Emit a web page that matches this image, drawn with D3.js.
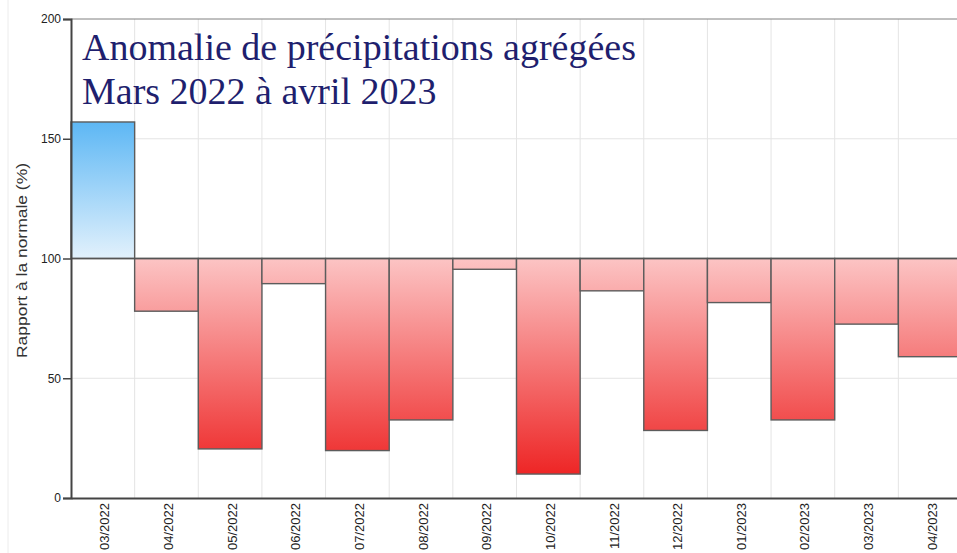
<!DOCTYPE html>
<html><head><meta charset="utf-8">
<script src="https://cdn.jsdelivr.net/npm/d3@7"></script>
<style>html,body{margin:0;padding:0;background:#fff;overflow:hidden}</style>
</head><body>
<svg id="c" width="957" height="553"></svg>
<script>
const categories = ["03/2022","04/2022","05/2022","06/2022","07/2022","08/2022","09/2022","10/2022","11/2022","12/2022","01/2023","02/2023","03/2023","04/2023"];
const values = [157, 78, 20.5, 89.5, 19.8, 32.6, 95.5, 10, 86.5, 28.2, 81.6, 32.6, 72.6, 59];
const yTicks = [0, 50, 100, 150, 200];
const baseline = 100;
const titleLines = ["Anomalie de précipitations agrégées", "Mars 2022 à avril 2023"];
const yLabel = "Rapport à la normale (%)";

const svg = d3.select("#c");
const L = 71, R = 962, T = 19, B = 498;
const x = d3.scaleBand().domain(categories).range([L, R]).padding(0);
const y = d3.scaleLinear().domain([0, 200]).range([B, T]);

const defs = svg.append("defs");
const gr = defs.append("linearGradient").attr("id","gr").attr("gradientUnits","userSpaceOnUse")
  .attr("x1",0).attr("x2",0).attr("y1",y(100)).attr("y2",y(0));
gr.append("stop").attr("offset",0).attr("stop-color","#fcc4c4");
gr.append("stop").attr("offset",1).attr("stop-color","#ec1414");
const gb = defs.append("linearGradient").attr("id","gb").attr("gradientUnits","userSpaceOnUse")
  .attr("x1",0).attr("x2",0).attr("y1",y(100)).attr("y2",y(160));
gb.append("stop").attr("offset",0).attr("stop-color","#e2f1fc");
gb.append("stop").attr("offset",1).attr("stop-color","#56b4f4");

// faint outer border
svg.append("line").attr("x1",8).attr("x2",8).attr("y1",0).attr("y2",553).attr("stroke","#ececec");

// grid
const bounds = categories.map(c => x(c)).concat([R]);
svg.append("g").selectAll("line").data(bounds.slice(1)).join("line")
  .attr("x1",d=>d).attr("x2",d=>d).attr("y1",T).attr("y2",B)
  .attr("stroke","#e4e4e4").attr("stroke-width",1);
svg.append("g").selectAll("line").data(yTicks.filter(t=>t!==0 && t!==200 && t!==baseline)).join("line")
  .attr("x1",L).attr("x2",R).attr("y1",d=>y(d)).attr("y2",d=>y(d))
  .attr("stroke","#e4e4e4").attr("stroke-width",1);
svg.append("line").attr("x1",L).attr("x2",R).attr("y1",y(200)).attr("y2",y(200)).attr("stroke","#808080").attr("stroke-width",1);

// bars
svg.append("g").selectAll("rect").data(values).join("rect")
  .attr("x",(d,i)=>x(categories[i]))
  .attr("width",x.bandwidth())
  .attr("y",d=>y(Math.max(d,baseline)))
  .attr("height",d=>Math.abs(y(d)-y(baseline)))
  .attr("fill",d=>d>=baseline?"url(#gb)":"url(#gr)")
  .attr("stroke","#5c5c5c").attr("stroke-width",1.4);

// baseline
svg.append("line").attr("x1",L).attr("x2",R).attr("y1",y(baseline)).attr("y2",y(baseline))
  .attr("stroke","#555").attr("stroke-width",1.4);

// axes
const ya = d3.axisLeft(y).tickValues(yTicks).tickSize(8).tickPadding(2);
const gy = svg.append("g").attr("transform",`translate(${L},0)`).call(ya);
gy.select(".domain").attr("stroke","#444").attr("stroke-width",2);
gy.selectAll(".tick line").attr("stroke","#444").attr("stroke-width",1.5);
gy.selectAll(".tick text").attr("font-family","Liberation Sans, Arial, sans-serif").attr("font-size",12).attr("fill","#222");

const xa = d3.axisBottom(x).tickSize(0).tickPadding(0);
const gx = svg.append("g").attr("transform",`translate(0,${B})`).call(xa);
gx.select(".domain").attr("stroke","#444").attr("stroke-width",2.2);
gx.selectAll(".tick text")
  .attr("font-family","Liberation Sans, Arial, sans-serif").attr("font-size",13).attr("fill","#222")
  .attr("transform","rotate(-90)").attr("text-anchor","end")
  .attr("x",-5).attr("y",2).attr("dy","0.35em");

// y label
svg.append("text").attr("transform",`translate(27,${(358+163)/2}) rotate(-90)`)
  .attr("text-anchor","middle").attr("font-family","Liberation Sans, Arial, sans-serif")
  .attr("font-size",15).attr("fill","#333")
  .attr("textLength",195).attr("lengthAdjust","spacingAndGlyphs")
  .text(yLabel);

// title
svg.append("g").selectAll("text").data(titleLines).join("text")
  .attr("x",82).attr("y",(d,i)=>60+i*44)
  .attr("font-family","Liberation Serif, Times New Roman, serif").attr("font-size",38)
  .attr("fill","#1f1f6e").text(d=>d);
</script>
</body></html>
